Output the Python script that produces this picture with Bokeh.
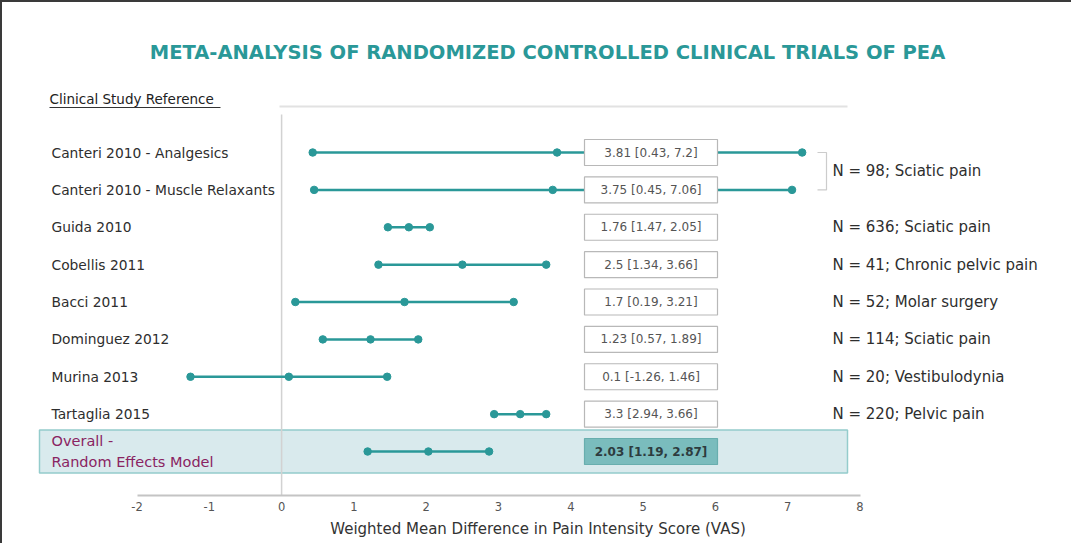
from bokeh.plotting import figure
from bokeh.models import Range1d, FixedTicker, ColumnDataSource
from bokeh.core.properties import value
from bokeh.embed import file_html
from bokeh.resources import INLINE

# ---------------- data ----------------
studies = ["Canteri 2010 - Analgesics", "Canteri 2010 - Muscle Relaxants", "Guida 2010",
           "Cobellis 2011", "Bacci 2011", "Dominguez 2012", "Murina 2013", "Tartaglia 2015"]
wmd = [3.81, 3.75, 1.76, 2.5, 1.7, 1.23, 0.1, 3.3]
ci_low = [0.43, 0.45, 1.47, 1.34, 0.19, 0.57, -1.26, 2.94]
ci_high = [7.2, 7.06, 2.05, 3.66, 3.21, 1.89, 1.46, 3.66]

overall_label = "Overall -\nRandom Effects Model"
overall_wmd = [2.03]
overall_low = [1.19]
overall_high = [2.87]

populations = ["N = 98; Sciatic pain", "N = 636; Sciatic pain", "N = 41; Chronic pelvic pain",
               "N = 52; Molar surgery", "N = 114; Sciatic pain", "N = 20; Vestibulodynia",
               "N = 220; Pelvic pain"]
population_rows = [0.5, 2, 3, 4, 5, 6, 7]

x_ticks = [-2, -1, 0, 1, 2, 3, 4, 5, 6, 7, 8]

title_text = "META-ANALYSIS OF RANDOMIZED CONTROLLED CLINICAL TRIALS OF PEA"
header_text = "Clinical Study Reference"
x_title = "Weighted Mean Difference in Pain Intensity Score (VAS)"

# ---------------- layout ----------------
W, H = 1071, 543
XPX = 72.3          # px per x unit
YPX = 37.375        # px per row
FRAME_H = 493
x_start = -2 - 134.5 / XPX
x_end = x_start + W / XPX
y_top = 0 - 150 / YPX
y_bot = y_top + FRAME_H / YPX

TEAL = "#2a9898"
FONT = value("DejaVu Sans")

p = figure(width=W, height=H, x_range=Range1d(x_start, x_end), y_range=Range1d(y_bot, y_top),
           output_backend="svg", toolbar_location=None, y_axis_location=None,
           min_border_left=0, min_border_right=0, min_border_top=0, min_border_bottom=50)
p.grid.visible = False
p.outline_line_color = None
p.background_fill_color = "white"
p.border_fill_color = "white"
p.styles = {"border-left": "2px solid #3a3a3a", "border-top": "2px solid #3a3a3a"}

ax = p.xaxis[0]
ax.bounds = (-2, 8)
ax.ticker = FixedTicker(ticks=x_ticks)
ax.major_label_overrides = {t: str(t) for t in x_ticks}
ax.axis_line_color = "#c4c4c4"
ax.axis_line_width = 2
ax.major_tick_line_color = None
ax.minor_tick_line_color = None
ax.major_label_standoff = 0
ax.major_label_text_font = "DejaVu Sans"
ax.major_label_text_font_size = "11.5px"
ax.major_label_text_color = "#555555"
ax.axis_label = x_title
ax.axis_label_standoff = 6
ax.axis_label_text_font = "DejaVu Sans"
ax.axis_label_text_font_size = "15px"
ax.axis_label_text_font_style = "normal"
ax.axis_label_text_color = "#333333"

rows = list(range(len(studies)))
orow = len(studies)

# overall highlight band
band_l = x_start + 37 / XPX
band_r = x_start + 845 / XPX
p.rect(x=[(band_l + band_r) / 2], y=[orow], width=band_r - band_l, height=43 / YPX,
       fill_color="#d9eaed", line_color="#94cccc", line_width=1.5)

# top separator line & zero line
p.line(x=[x_start + 277 / XPX, x_start + 845 / XPX], y=[y_top + 104 / YPX] * 2,
       line_color="#e2e2e2", line_width=2)
p.line(x=[0, 0], y=[y_top + 112 / YPX, y_bot], line_color="#d2d2d2", line_width=1.5)

# header and underline
hx = x_start + 47 / XPX
p.text(x=[hx], y=[y_top + 96 / YPX], text=[header_text], text_font=FONT,
       text_font_size="13.5px", text_color="#222222", text_baseline="middle", text_align="left")
p.line(x=[hx, x_start + 218 / XPX], y=[y_top + 105 / YPX] * 2, line_color="#333333", line_width=1)

# title
p.text(x=[x_start + 545 / XPX], y=[y_top + 50 / YPX], text=[title_text], text_font=FONT,
       text_font_size="19.5px", text_font_style="bold", text_color=TEAL,
       text_baseline="middle", text_align="center")

# CI lines and points
src = ColumnDataSource(dict(y=rows, m=wmd, lo=ci_low, hi=ci_high))
osrc = ColumnDataSource(dict(y=[orow], m=overall_wmd, lo=overall_low, hi=overall_high))
for s in (src, osrc):
    p.segment(x0="lo", y0="y", x1="hi", y1="y", source=s, line_color=TEAL, line_width=2.5)
    for col in ("lo", "m", "hi"):
        p.scatter(x=col, y="y", source=s, size=7.5, fill_color=TEAL, line_color=TEAL)

# value boxes
box_x = x_start + 648.5 / XPX
labels = [f"{m} [{lo}, {hi}]" for m, lo, hi in zip(wmd, ci_low, ci_high)]
p.rect(x=[box_x] * len(rows), y=rows, width=133, height=26, width_units="screen",
       height_units="screen", fill_color="white", line_color="#b8b8b8", line_width=1.2)
p.text(x=[box_x] * len(rows), y=rows, text=labels, text_font=FONT, text_font_size="12px",
       text_color="#555555", text_align="center", text_baseline="middle")
olabel = [f"{overall_wmd[0]} [{overall_low[0]}, {overall_high[0]}]"]
p.rect(x=[box_x], y=[orow], width=133, height=26, width_units="screen", height_units="screen",
       fill_color="#7abcbd", line_color="#68aeae", line_width=1.2)
p.text(x=[box_x], y=[orow], text=olabel, text_font=FONT, text_font_size="12px",
       text_font_style="bold", text_color="#2d3b3e", text_align="center", text_baseline="middle")

# study labels
lx = x_start + 49 / XPX
p.text(x=[lx] * len(rows), y=rows, text=studies, text_font=FONT, text_font_size="13.8px",
       text_color="#2e2e2e", text_align="left", text_baseline="middle")
p.text(x=[lx], y=[orow], text=[overall_label], text_font=FONT, text_font_size="14.5px",
       text_color="#8a2462", text_align="left", text_baseline="middle", text_line_height=1.3)

# population annotations
px_ = x_start + 830 / XPX
p.text(x=[px_] * len(populations), y=population_rows, text=populations, text_font=FONT,
       text_font_size="15px", text_color="#2e2e2e", text_align="left", text_baseline="middle")

# bracket for the two Canteri rows
bx = x_start + 824 / XPX
bl = x_start + 815 / XPX
p.line(x=[bl, bx, bx, bl], y=[0, 0, 1, 1], line_color="#cccccc", line_width=1.2)

open("out.html", "w").write(file_html(p, INLINE))
